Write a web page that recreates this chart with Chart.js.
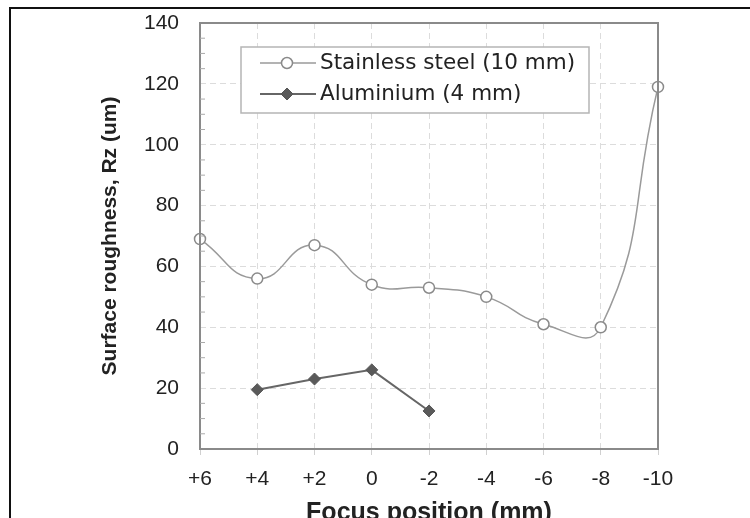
<!DOCTYPE html>
<html>
<head>
<meta charset="utf-8">
<script src="https://cdn.jsdelivr.net/npm/chart.js@4/dist/chart.umd.min.js"></script>
<style>
  html, body { margin: 0; padding: 0; background: #fff; }
  #wrap { position: relative; width: 750px; height: 518px; overflow: hidden; }
  #frame { position: absolute; left: 9px; top: 7px; width: 760px; height: 530px;
           border-left: 2px solid #111; border-top: 2px solid #111; pointer-events: none; }
</style>
</head>
<body>
<div id="wrap">
  <canvas id="chart" width="750" height="518"></canvas>
  <div id="frame"></div>
</div>
<script>
const focusPositions = ["+6", "+4", "+2", "0", "-2", "-4", "-6", "-8", "-10"];
const stainlessRz = [69, 56, 67, 54, 53, 50, 41, 40, 119];
const aluminiumRz = [null, 19.5, 23, 26, 12.5, null, null, null, null];
const yTicks = [0, 20, 40, 60, 80, 100, 120, 140];
const legendNames = ["Stainless steel (10 mm)", "Aluminium (4 mm)"];

const FONT = "'Liberation Sans', Arial, sans-serif";
const LEGEND_FONT = "'DejaVu Sans', Verdana, sans-serif";

// border round the plot, minor ticks and the boxed legend
const plotExtras = {
  id: 'plotExtras',
  afterDatasetsDraw(chart) {
    const { ctx, chartArea: a, scales } = chart;
    ctx.save();
    ctx.strokeStyle = '#8a8a8a';
    ctx.lineWidth = 2;
    ctx.strokeRect(a.left, a.top, a.right - a.left, a.bottom - a.top);

    // minor ticks along the left side
    ctx.lineWidth = 1;
    ctx.strokeStyle = '#aaa';
    for (let v = 5; v < 140; v += 5) {
      if (v % 20 === 0) continue;
      const y = scales.y.getPixelForValue(v);
      ctx.beginPath();
      ctx.moveTo(a.left, y);
      ctx.lineTo(a.left + 5, y);
      ctx.stroke();
    }

    // legend
    const bx = 241, by = 47, bw = 348, bh = 66;
    ctx.fillStyle = '#fff';
    ctx.fillRect(bx, by, bw, bh);
    ctx.strokeStyle = '#b5b5b5';
    ctx.lineWidth = 1.5;
    ctx.strokeRect(bx, by, bw, bh);

    const rowY = [63, 94];
    chart.data.datasets.forEach((ds, i) => {
      const y = rowY[i];
      ctx.strokeStyle = ds.borderColor;
      ctx.lineWidth = ds.borderWidth;
      ctx.beginPath();
      ctx.moveTo(260, y);
      ctx.lineTo(316, y);
      ctx.stroke();
      ctx.fillStyle = ds.pointBackgroundColor;
      ctx.strokeStyle = ds.pointBorderColor;
      ctx.lineWidth = ds.pointBorderWidth;
      ctx.beginPath();
      const s = ds.pointRadius;
      if (ds.pointStyle === 'circle') {
        ctx.arc(287, y, s, 0, Math.PI * 2);
      } else {
        ctx.moveTo(287, y - s); ctx.lineTo(287 + s, y);
        ctx.lineTo(287, y + s); ctx.lineTo(287 - s, y);
        ctx.closePath();
      }
      ctx.fill();
      ctx.stroke();
      ctx.fillStyle = '#222';
      ctx.font = '21.5px ' + LEGEND_FONT;
      ctx.textBaseline = 'middle';
      ctx.fillText(legendNames[i], 320, y);
    });
    ctx.restore();
  }
};

new Chart(document.getElementById('chart'), {
  type: 'line',
  data: {
    labels: focusPositions,
    datasets: [
      {
        label: legendNames[0],
        data: stainlessRz,
        borderColor: '#9a9a9a',
        borderWidth: 1.5,
        tension: 0.5,
        pointStyle: 'circle',
        pointRadius: 5.5,
        pointBackgroundColor: '#fff',
        pointBorderColor: '#8a8a8a',
        pointBorderWidth: 1.5
      },
      {
        label: legendNames[1],
        data: aluminiumRz,
        borderColor: '#666',
        borderWidth: 2,
        tension: 0,
        spanGaps: false,
        pointStyle: 'rectRot',
        pointRadius: 6,
        pointBackgroundColor: '#5a5a5a',
        pointBorderColor: '#555',
        pointBorderWidth: 1
      }
    ]
  },
  options: {
    responsive: false,
    animation: false,
    layout: { padding: { left: 98, right: 92, top: 23, bottom: 0 } },
    plugins: {
      legend: { display: false },
      tooltip: { enabled: false }
    },
    scales: {
      x: {
        offset: false,
        grid: { color: '#dcdcdc', drawTicks: true, tickLength: 6, tickColor: '#d0d0d0' },
        border: { display: false, dash: [6, 4] },
        ticks: { color: '#222', padding: 12, font: { family: FONT, size: 21 }, maxRotation: 0 },
        title: {
          display: true, text: 'Focus position (mm)', color: '#222',
          font: { family: FONT, size: 25, weight: 'bold' }, padding: { top: 0, bottom: -10 }
        },
        afterFit(scale) { scale.height = 69; }
      },
      y: {
        min: 0, max: 140,
        afterBuildTicks(scale) { scale.ticks = yTicks.map(v => ({ value: v })); },
        grid: { color: '#dcdcdc', drawTicks: true, tickLength: 17, tickColor: 'rgba(0,0,0,0)' },
        border: { display: false, dash: [6, 4] },
        ticks: { color: '#222', padding: 4, font: { family: FONT, size: 21 } },
        title: {
          display: true, text: 'Surface roughness, Rz (um)', color: '#222',
          font: { family: FONT, size: 21, weight: 'bold' }, padding: { top: 0, bottom: 0 }
        },
        afterFit(scale) { scale.width = 102; }
      }
    }
  },
  plugins: [plotExtras]
});
</script>
</body>
</html>
